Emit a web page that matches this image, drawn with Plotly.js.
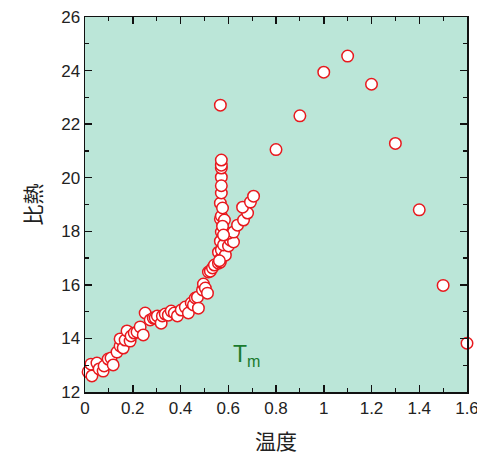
<!DOCTYPE html>
<html>
<head>
<meta charset="utf-8">
<script src="https://cdn.plot.ly/plotly-3.0.1.min.js"></script>
<style>html,body{margin:0;padding:0;background:#fff;}#chart{width:477px;height:459px;}</style>
</head>
<body>
<div id="chart"></div>
<script>
const temperature = [
  0.013,0.025,0.029,0.050,0.059,0.076,0.080,0.097,0.109,0.118,
  0.134,0.147,0.147,0.160,0.168,0.176,0.189,0.193,0.206,0.218,
  0.231,0.244,0.252,0.273,0.286,0.294,0.303,0.319,0.324,0.336,
  0.349,0.361,0.374,0.387,0.403,0.420,0.433,0.445,0.454,0.462,
  0.471,0.475,0.492,0.496,0.504,0.513,0.517,0.525,0.534,0.542,
  0.559,0.567,0.559,0.567,0.571,0.567,0.571,0.567,0.571,0.567,
  0.571,0.571,0.571,0.571,0.571,0.567,0.588,0.584,0.580,0.601,
  0.609,0.622,0.601,0.622,0.639,0.664,0.681,0.660,0.693,0.706,
  0.576,0.580,0.576,0.571,0.563,
  0.8,0.9,1.0,1.1,1.2,1.3,1.4,1.5,1.6
];
const specificHeat = [
  12.75,13.04,12.60,13.08,12.86,12.78,12.97,13.23,13.27,13.01,
  13.49,13.72,13.98,13.64,13.94,14.28,13.90,14.09,14.20,14.24,
  14.43,14.13,14.95,14.69,14.76,14.76,14.84,14.57,14.84,14.91,
  14.87,15.02,14.95,14.84,15.06,15.17,14.95,15.32,15.25,15.51,
  15.54,15.13,15.81,16.03,15.88,15.69,16.48,16.51,16.63,16.74,
  16.81,16.85,17.22,16.96,17.30,17.63,17.97,18.46,18.57,19.05,
  19.43,20.02,20.36,20.47,20.66,22.71,17.11,18.42,17.49,17.45,
  17.67,17.60,17.93,17.97,18.23,18.42,18.68,18.90,19.09,19.31,
  18.19,17.86,18.87,19.70,16.90,
  21.05,22.31,23.94,24.54,23.49,21.28,18.80,15.98,13.82
];
const xTickVals = [0,0.2,0.4,0.6,0.8,1,1.2,1.4,1.6];
const xTickText = ["0","0.2","0.4","0.6","0.8","1","1.2","1.4","1.6"];
const yTickVals = [12,14,16,18,20,22,24,26];
const yTickText = ["12","14","16","18","20","22","24","26"];

const trace = {
  x: temperature, y: specificHeat, type: 'scatter', mode: 'markers',
  cliponaxis: false,
  marker: {size: 11.5, color: '#ffffff', line: {color: '#e8191e', width: 1.5}},
  hoverinfo: 'skip'
};

const fontFam = 'Liberation Sans, Arial, sans-serif';
const layout = {
  width: 477, height: 459,
  margin: {l: 85, r: 10, t: 17, b: 67},
  paper_bgcolor: '#ffffff',
  plot_bgcolor: '#bbe6d8',
  showlegend: false,
  xaxis: {
    range: [0, 1.6], tickvals: xTickVals, ticktext: xTickText,
    ticklabeloverflow: 'allow',
    ticks: 'inside', ticklen: 7, tickwidth: 1.5, tickcolor: '#111',
    minor: {dtick: 0.1, ticks: 'inside', ticklen: 4, tickwidth: 1.2, tickcolor: '#111'},
    showline: true, linecolor: '#111', linewidth: 1.5, mirror: 'ticks',
    showgrid: false, zeroline: false,
    tickfont: {family: fontFam, size: 17, color: '#222'},
    title: {text: '温度', font: {family: 'Noto Sans CJK JP, sans-serif', size: 21, color: '#222'}, standoff: 17}
  },
  yaxis: {
    range: [12, 26], tickvals: yTickVals, ticktext: yTickText,
    ticks: 'inside', ticklen: 7, tickwidth: 1.5, tickcolor: '#111',
    minor: {dtick: 1, ticks: 'inside', ticklen: 4, tickwidth: 1.2, tickcolor: '#111'},
    showline: true, linecolor: '#111', linewidth: 1.5, mirror: 'ticks',
    showgrid: false, zeroline: false,
    tickfont: {family: fontFam, size: 17, color: '#222'},
    title: {text: '比熱', font: {family: 'Noto Sans CJK JP, sans-serif', size: 21, color: '#222'}, standoff: 14}
  },
  annotations: [{
    x: 0.675, y: 13.35, xref: 'x', yref: 'y', showarrow: false,
    text: 'T<sub>m</sub>',
    font: {family: fontFam, size: 23, color: '#1a7a2e'}
  }]
};

Plotly.newPlot('chart', [trace], layout, {staticPlot: true});
</script>
</body>
</html>
